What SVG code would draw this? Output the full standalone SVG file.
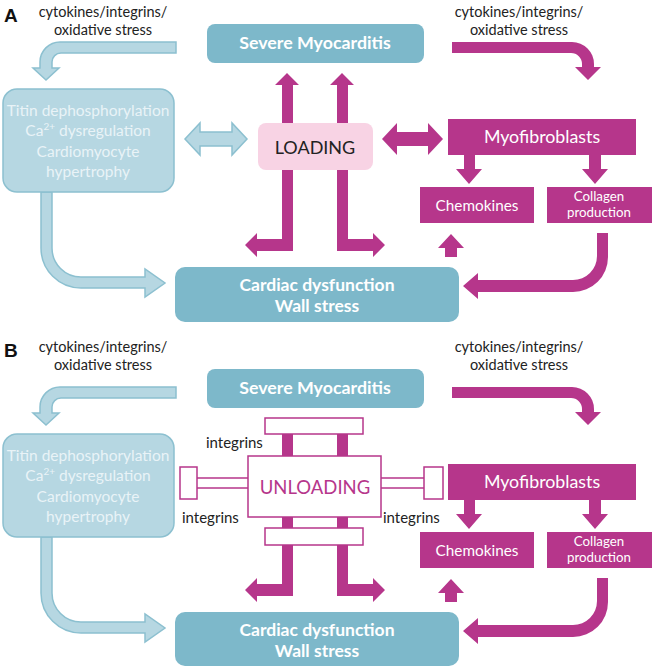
<svg xmlns="http://www.w3.org/2000/svg" width="655" height="670" viewBox="0 0 655 670">
<style>
  .t { font-family: Lato, "Open Sans", "Liberation Sans", sans-serif; }
  .lbl { font-family: "Liberation Sans", Arial, sans-serif; font-weight: bold; font-size: 19px; fill: #111; }
  .cyt { font-size: 14.5px; fill: #222; text-anchor: middle; }
  .teal { fill: #7db8ca; }
  .tealtxt { fill: #ffffff; font-weight: bold; text-anchor: middle; }
  .light { fill: #b6d7e2; stroke: #8cc0d0; stroke-width: 1.5; }
  .lighttxt { fill: #e9f3f7; font-size: 15.5px; text-anchor: middle; }
  .mag { fill: #b6368b; }
  .magtxt { fill: #ffffff; text-anchor: middle; }
  .pink { fill: #f8d3e4; }
  .wbox { fill: #ffffff; stroke: #b6368b; stroke-width: 1.5; }
  .integ { font-size: 15px; fill: #222; }
</style>

<!-- ================= PANEL A ================= -->
<text class="lbl" x="4" y="22">A</text>
<text class="t cyt" x="103" y="17">cytokines/integrins/</text>
<text class="t cyt" x="103" y="35">oxidative stress</text>
<text class="t cyt" x="519" y="17">cytokines/integrins/</text>
<text class="t cyt" x="519" y="35">oxidative stress</text>

<g id="connectors-A">
  <path class="light" d="M176,42 H60 A20,20 0 0 0 40,62 V68 H33 L46,80 L59,68 H52 V62 A9,9 0 0 1 61,53 H176 Z"/>
  <path class="mag" d="M452,42 H572 A22,22 0 0 1 594,64 V67 H601 L588,80 L575,67 H582 V64 A11,11 0 0 0 571,53 H452 Z"/>
  <path class="light" d="M41,192 V248 A40,40 0 0 0 81,288 H145 V297 L165,283 L145,269 V277 H81 A29,29 0 0 1 52,248 V192 Z"/>
  <path class="light" d="M185,139 L200,123 V132 H232 V123 L247,139 L232,155 V146 H200 V155 Z"/>
  <path class="mag" d="M382,139 L397,123 V132 H428 V123 L443,139 L428,155 V146 H397 V155 Z"/>
  <path class="mag" d="M287,73 L299,85 H293 V251 H257 V257 L245,245 L257,233 V239 H282 V85 H275 Z"/>
  <path class="mag" d="M342,73 L354,85 H348 V239 H373 V233 L385,245 L373,257 V251 H337 V85 H330 Z"/>
  <path class="mag" d="M464,155 H475 V169 H482 L469,184 L456,169 H464 Z"/>
  <path class="mag" d="M589,155 H601 V169 H608 L595,184 L582,169 H589 Z"/>
  <path class="mag" d="M445,257 V248 H438 L451,234 L464,248 H457 V257 Z"/>
  <path class="mag" d="M597,233 V256 A24,24 0 0 1 573,280 H478 V273 L463,286 L478,299 V292 H573 A35,35 0 0 0 608,257 V233 Z"/>
</g>

<g id="severe-A">
  <rect class="teal" x="207" y="24" width="217" height="39" rx="8"/>
  <text class="t tealtxt" x="315" y="49" font-size="17.8">Severe Myocarditis</text>
</g>
<g id="titin-A">
  <rect class="light" x="3" y="89" width="171" height="103" rx="14"/>
  <text class="t lighttxt" x="88" y="116">Titin dephosphorylation</text>
  <text class="t lighttxt" x="88" y="136">Ca<tspan font-size="10" dy="-6">2+</tspan><tspan dy="6"> dysregulation</tspan></text>
  <text class="t lighttxt" x="88" y="157">Cardiomyocyte</text>
  <text class="t lighttxt" x="88" y="177">hypertrophy</text>
</g>
<g id="loading">
  <rect class="pink" x="258" y="123" width="115" height="47" rx="8"/>
  <text class="t" x="315" y="154" font-size="18" fill="#222" text-anchor="middle">LOADING</text>
</g>
<g id="myofibroblasts-A">
  <rect class="mag" x="448" y="119" width="188" height="36"/>
  <text class="t magtxt" x="542" y="143" font-size="17.8">Myofibroblasts</text>
</g>
<g id="chemokines-A">
  <rect class="mag" x="420" y="187" width="114" height="36"/>
  <text class="t magtxt" x="477" y="211" font-size="15.3">Chemokines</text>
</g>
<g id="collagen-A">
  <rect class="mag" x="547" y="187" width="105" height="36"/>
  <text class="t magtxt" x="599" y="201" font-size="13.3">Collagen</text>
  <text class="t magtxt" x="599" y="217" font-size="13.3">production</text>
</g>
<g id="cardiac-A">
  <rect class="teal" x="175" y="267" width="284" height="55" rx="10"/>
  <text class="t tealtxt" x="317" y="291" font-size="17.5">Cardiac dysfunction</text>
  <text class="t tealtxt" x="317" y="312" font-size="17.5">Wall stress</text>
</g>

<!-- ================= PANEL B ================= -->
<text class="lbl" x="4" y="357">B</text>
<text class="t cyt" x="103" y="352">cytokines/integrins/</text>
<text class="t cyt" x="103" y="370">oxidative stress</text>
<text class="t cyt" x="519" y="352">cytokines/integrins/</text>
<text class="t cyt" x="519" y="370">oxidative stress</text>

<g id="connectors-B">
  <path class="light" d="M176,387 H60 A20,20 0 0 0 40,407 V413 H33 L46,425 L59,413 H52 V407 A9,9 0 0 1 61,398 H176 Z"/>
  <path class="mag" d="M452,387 H572 A22,22 0 0 1 594,409 V412 H601 L588,425 L575,412 H582 V409 A11,11 0 0 0 571,398 H452 Z"/>
  <path class="light" d="M41,537 V593 A40,40 0 0 0 81,633 H145 V642 L165,628 L145,614 V622 H81 A29,29 0 0 1 52,593 V537 Z"/>
  <path class="mag" d="M282,434 H293 V596 H257 V602 L245,590 L257,578 V584 H282 Z"/>
  <path class="mag" d="M337,434 H348 V584 H373 V578 L385,590 L373,602 V596 H337 Z"/>
  <path class="mag" d="M464,500 H475 V514 H482 L469,529 L456,514 H464 Z"/>
  <path class="mag" d="M589,500 H601 V514 H608 L595,529 L582,514 H589 Z"/>
  <path class="mag" d="M445,602 V593 H438 L451,579 L464,593 H457 V602 Z"/>
  <path class="mag" d="M597,578 V601 A24,24 0 0 1 573,625 H478 V618 L463,631 L478,644 V637 H573 A35,35 0 0 0 608,602 V578 Z"/>
  <rect class="wbox" x="196" y="478" width="53" height="10"/>
  <rect class="wbox" x="180" y="467" width="17" height="32"/>
  <rect class="wbox" x="380" y="478" width="45" height="10"/>
  <rect class="wbox" x="424" y="467" width="19" height="32"/>
  <rect class="wbox" x="265" y="418" width="98" height="16"/>
  <rect class="wbox" x="265" y="528" width="98" height="17"/>
</g>

<g id="severe-B">
  <rect class="teal" x="207" y="369" width="217" height="39" rx="8"/>
  <text class="t tealtxt" x="315" y="394" font-size="17.8">Severe Myocarditis</text>
</g>
<g id="titin-B">
  <rect class="light" x="3" y="434" width="171" height="103" rx="14"/>
  <text class="t lighttxt" x="88" y="461">Titin dephosphorylation</text>
  <text class="t lighttxt" x="88" y="481">Ca<tspan font-size="10" dy="-6">2+</tspan><tspan dy="6"> dysregulation</tspan></text>
  <text class="t lighttxt" x="88" y="502">Cardiomyocyte</text>
  <text class="t lighttxt" x="88" y="522">hypertrophy</text>
</g>
<g id="unloading">
  <rect class="wbox" x="248" y="456" width="133" height="61"/>
  <text class="t" x="315" y="494" font-size="18.5" fill="#b6368b" text-anchor="middle">UNLOADING</text>
</g>
<g id="integrins-labels">
  <text class="t integ" x="206" y="448">integrins</text>
  <text class="t integ" x="182" y="523">integrins</text>
  <text class="t integ" x="383" y="523">integrins</text>
</g>
<g id="myofibroblasts-B">
  <rect class="mag" x="448" y="464" width="188" height="36"/>
  <text class="t magtxt" x="542" y="488" font-size="17.8">Myofibroblasts</text>
</g>
<g id="chemokines-B">
  <rect class="mag" x="420" y="532" width="114" height="36"/>
  <text class="t magtxt" x="477" y="556" font-size="15.3">Chemokines</text>
</g>
<g id="collagen-B">
  <rect class="mag" x="547" y="532" width="105" height="36"/>
  <text class="t magtxt" x="599" y="546" font-size="13.3">Collagen</text>
  <text class="t magtxt" x="599" y="562" font-size="13.3">production</text>
</g>
<g id="cardiac-B">
  <rect class="teal" x="175" y="612" width="284" height="54" rx="10"/>
  <text class="t tealtxt" x="317" y="636" font-size="17.5">Cardiac dysfunction</text>
  <text class="t tealtxt" x="317" y="657" font-size="17.5">Wall stress</text>
</g>
</svg>
